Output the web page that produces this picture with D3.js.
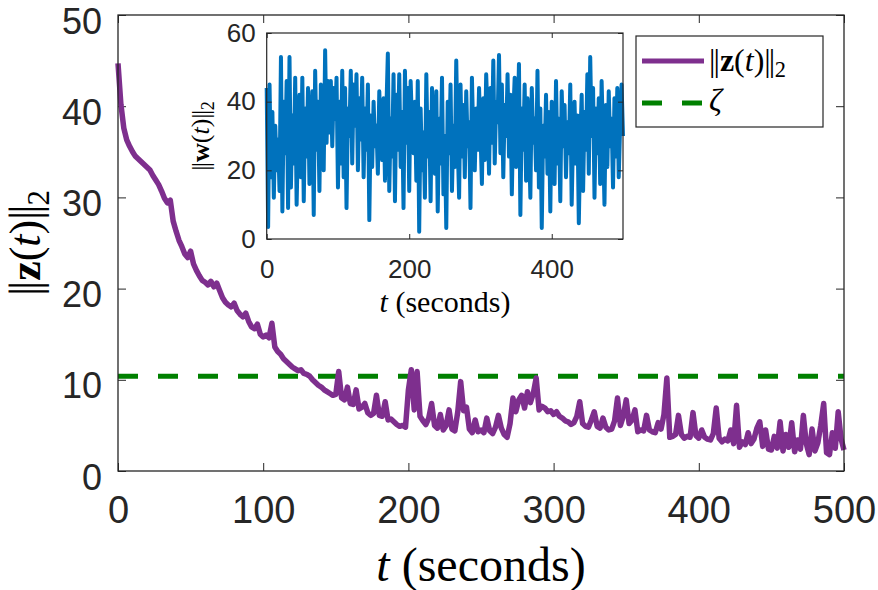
<!DOCTYPE html>
<html>
<head>
<meta charset="utf-8">
<script src="https://cdn.jsdelivr.net/npm/d3@7"></script>
<style>
    body { margin: 0; background: #fff; }
    .tick text { font-family: "Liberation Sans", Arial, sans-serif; fill: #262626; }
    .tex { font-family: "Liberation Serif", "DejaVu Serif", serif; fill: #000; }
</style>
</head>
<body>
<div id="chart"></div>
<script>
// sample spacing (seconds) of both series
const timeStep = 2;

// ||z(t)||_2, one value every 2 s from t = 0 to t = 500
const zNorm = [
    44.7, 40.2, 37.6, 36.3, 35.6, 35.0, 34.5, 34.2, 33.9, 33.6,
    33.3, 33.0, 32.4, 31.9, 31.4, 30.7, 29.9, 29.4, 29.7, 27.4,
    26.3, 25.3, 24.6, 23.8, 23.4, 24.1, 22.7, 22.0, 21.4, 20.9,
    20.7, 20.4, 20.8, 20.2, 20.6, 19.8, 19.0, 18.5, 18.2, 18.0,
    18.4, 17.6, 17.2, 16.9, 17.3, 16.4, 15.8, 15.6, 16.1, 15.0,
    14.7, 14.9, 14.6, 16.2, 13.6, 13.1, 12.8, 12.3, 12.0, 11.7,
    11.4, 11.2, 11.0, 11.1, 10.7, 10.6, 10.4, 10.0, 9.7, 9.4,
    9.2, 8.9, 8.7, 8.5, 8.3, 8.4, 10.9, 8.0, 7.8, 9.2,
    7.4, 7.3, 8.9, 6.8, 7.0, 7.4, 6.4, 6.1, 6.3, 8.3,
    6.1, 6.0, 7.6, 5.6, 5.7, 5.4, 5.1, 4.9, 5.0, 4.8,
    8.9, 11.1, 6.7, 10.9, 6.0, 5.5, 5.1, 5.8, 7.4, 5.0,
    4.7, 6.2, 4.5, 5.0, 6.7, 4.6, 4.4, 6.5, 9.8, 6.6,
    7.0, 4.6, 4.2, 5.6, 4.3, 4.5, 4.2, 5.8, 4.4, 4.1,
    4.8, 6.1, 4.7, 4.0, 3.7, 5.2, 8.0, 6.5, 7.8, 8.3,
    6.9, 8.7, 7.5, 8.5, 10.2, 6.7, 7.1, 6.9, 6.5, 6.6,
    6.2, 6.5, 6.0, 5.8, 5.5, 5.4, 5.1, 5.3, 6.0, 7.6,
    5.2, 4.9, 4.8, 5.6, 6.5, 4.9, 4.7, 5.8, 4.8, 4.5,
    4.6, 5.5, 8.0, 5.0, 6.0, 7.8, 5.2, 5.6, 6.7, 4.3,
    4.5, 4.4, 6.1, 4.5, 4.3, 4.2, 5.3, 4.6, 6.2, 10.2,
    3.7, 3.8, 4.0, 6.1, 4.0, 3.6, 3.8, 3.7, 6.4, 3.9,
    3.6, 4.5, 3.7, 3.5, 3.4, 4.1, 6.9, 3.6, 3.2, 3.5,
    3.3, 4.5, 3.0, 7.2, 2.6, 3.2, 2.9, 4.2, 3.0, 3.5,
    4.7, 5.4, 2.7, 4.5, 2.4, 2.3, 3.8, 2.5, 5.4, 2.2,
    4.0, 2.6, 5.3, 2.1, 3.4, 2.4, 6.1, 3.0, 1.8, 4.6,
    2.2, 3.1, 5.0, 7.4, 2.0, 1.8, 4.2, 2.5, 6.5, 3.5,
    2.3
];

// ||w(t)||_2 for the inset, same time grid
const wNorm = [
    44, 3.5, 45, 18, 37, 12, 33, 20, 29, 14,
    53, 8, 40, 25, 46, 9, 53, 15, 36, 22,
    47, 10, 30, 42, 18, 47, 11, 38, 24, 44,
    16, 32, 43, 7, 49, 26, 40, 14, 45, 33,
    20, 55, 28, 46, 31, 46, 27, 44, 35, 47,
    15, 40, 22, 49, 18, 44, 9, 38, 30, 49,
    22, 45, 33, 48, 20, 41, 29, 47, 18, 38,
    26, 45, 5.5, 36, 21, 40, 27, 33, 19, 43,
    30, 23, 41, 17, 38, 54, 14, 35, 24, 48,
    11, 42, 26, 48, 21, 37, 9, 49, 28, 44,
    14, 46, 33, 25, 40, 17, 46, 2.1, 38, 20,
    31, 12, 48, 24, 37, 11, 44, 28, 19, 43,
    8, 35, 22, 47, 13, 30, 3.2, 40, 25, 45,
    14, 33, 21, 52, 28, 12, 45, 24, 39, 18,
    43, 27, 34, 9, 47, 29, 20, 38, 26, 44,
    31, 16, 41, 23, 48, 36, 19, 44, 28, 52,
    22, 40, 34, 53.6, 25, 45, 18, 39, 30, 48,
    24, 42, 13, 36, 47, 21, 31, 51, 7, 38,
    26, 45, 17, 41, 30, 12, 44, 28, 35, 20,
    49, 15, 38, 3.2, 33, 24, 42, 19, 37, 8,
    40, 29, 16, 46, 22, 35, 11, 43, 27, 39,
    18, 34, 25, 45, 10, 31, 40, 22, 36, 4.6,
    28, 42, 14, 37, 26, 48, 19, 53, 30, 44,
    12, 38, 25, 41, 16, 46, 29, 10, 39, 21,
    43, 27, 35, 15, 41, 24, 44, 18, 33, 45,
    30
];

const zeta = 10.4;

const mainXTicks = [0, 100, 200, 300, 400, 500];
const mainYTicks = [0, 10, 20, 30, 40, 50];
const insetXTicks = [0, 200, 400];
const insetYTicks = [0, 20, 40, 60];

const width = 878,
    height = 590;

const purple = "#7E2F8E",
    blue = "#0072BD",
    green = "#008000",
    axisColor = "#262626";

const svg = d3.select("#chart")
    .append("svg")
    .attr("width", width)
    .attr("height", height);

// main axes
const x = d3.scaleLinear().domain([0, 500]).range([118, 844]);
const y = d3.scaleLinear().domain([0, 50]).range([471, 15]);

function styleAxis(g, fontSize) {
    g.select(".domain").remove();
    g.selectAll(".tick line").attr("stroke", axisColor).attr("stroke-width", 1);
    g.selectAll(".tick text").style("font-size", fontSize + "px");
}

svg.append("g")
    .attr("transform", `translate(0,${y(0)})`)
    .call(d3.axisBottom(x).tickValues(mainXTicks).tickSizeInner(-8).tickSizeOuter(0).tickPadding(25))
    .call(g => styleAxis(g, 38));
svg.append("g")
    .attr("transform", `translate(0,${y(50)})`)
    .call(d3.axisTop(x).tickValues(mainXTicks).tickSizeInner(-8).tickSizeOuter(0).tickFormat(""))
    .call(g => styleAxis(g, 38));
svg.append("g")
    .attr("transform", `translate(${x(0)},0)`)
    .call(d3.axisLeft(y).tickValues(mainYTicks).tickSizeInner(-8).tickSizeOuter(0).tickPadding(16))
    .call(g => styleAxis(g, 36))
    .call(g => g.selectAll(".tick text").attr("dy", "0.5em"));
svg.append("g")
    .attr("transform", `translate(${x(500)},0)`)
    .call(d3.axisRight(y).tickValues(mainYTicks).tickSizeInner(-8).tickSizeOuter(0).tickFormat(""))
    .call(g => styleAxis(g, 38));

// threshold line
svg.append("line")
    .attr("x1", x(0)).attr("x2", x(500))
    .attr("y1", y(zeta)).attr("y2", y(zeta))
    .attr("stroke", green)
    .attr("stroke-width", 5)
    .attr("stroke-dasharray", "20,20");

// ||z(t)||_2 curve
const zLine = d3.line()
    .x((d, i) => x(i * timeStep))
    .y(d => y(d));

svg.append("path")
    .datum(zNorm)
    .attr("d", zLine)
    .attr("fill", "none")
    .attr("stroke", purple)
    .attr("stroke-width", 5.5)
    .attr("stroke-linejoin", "round");

// box around main axes
svg.append("rect")
    .attr("x", x(0)).attr("y", y(50))
    .attr("width", x(500) - x(0)).attr("height", y(0) - y(50))
    .attr("fill", "none")
    .attr("stroke", axisColor)
    .attr("stroke-width", 1.3);

// axis labels (main)
const xLabel = svg.append("text")
    .attr("class", "tex")
    .attr("x", 481).attr("y", 581)
    .attr("text-anchor", "middle")
    .style("font-size", "48px");
xLabel.append("tspan").style("font-style", "italic").text("t");
xLabel.append("tspan").text(" (seconds)");

// norm symbol built from two bars, like the LaTeX \| in the source figure
function normLabel(sel, letter, sub) {
    sel.append("tspan").style("letter-spacing", "-0.06em").text("||");
    sel.append("tspan").attr("dx", "0.06em").style("font-weight", "bold").text(letter);
    sel.append("tspan").text("(");
    sel.append("tspan").style("font-style", "italic").text("t");
    sel.append("tspan").text(")");
    sel.append("tspan").style("letter-spacing", "-0.06em").text("||");
    sel.append("tspan").attr("dy", sub).attr("dx", "0.06em").style("font-size", "0.7em").text("2");
}

const yLabel = svg.append("text")
    .attr("class", "tex")
    .attr("transform", "translate(40,243) rotate(-90)")
    .attr("text-anchor", "middle")
    .style("font-size", "44px");
normLabel(yLabel, "z", "0.3em");

// inset axes
const xi = d3.scaleLinear().domain([0, 500]).range([266.7, 623]);
const yi = d3.scaleLinear().domain([0, 60]).range([239, 33]);

svg.append("rect")
    .attr("x", xi(0)).attr("y", yi(60))
    .attr("width", xi(500) - xi(0)).attr("height", yi(0) - yi(60))
    .attr("fill", "#fff");

const wLine = d3.line()
    .x((d, i) => xi(i * timeStep))
    .y(d => yi(d));

svg.append("path")
    .datum(wNorm)
    .attr("d", wLine)
    .attr("fill", "none")
    .attr("stroke", blue)
    .attr("stroke-width", 4)
    .attr("stroke-linejoin", "round");

svg.append("g")
    .attr("transform", `translate(0,${yi(0)})`)
    .call(d3.axisBottom(xi).tickValues(insetXTicks).tickSizeInner(-5).tickSizeOuter(0).tickPadding(21))
    .call(g => styleAxis(g, 26));
svg.append("g")
    .attr("transform", `translate(0,${yi(60)})`)
    .call(d3.axisTop(xi).tickValues(insetXTicks).tickSizeInner(-5).tickSizeOuter(0).tickFormat(""))
    .call(g => styleAxis(g, 26));
svg.append("g")
    .attr("transform", `translate(${xi(0)},0)`)
    .call(d3.axisLeft(yi).tickValues(insetYTicks).tickSizeInner(-5).tickSizeOuter(0).tickPadding(11))
    .call(g => styleAxis(g, 26));
svg.append("g")
    .attr("transform", `translate(${xi(500)},0)`)
    .call(d3.axisRight(yi).tickValues(insetYTicks).tickSizeInner(-5).tickSizeOuter(0).tickFormat(""))
    .call(g => styleAxis(g, 26));

svg.append("rect")
    .attr("x", xi(0)).attr("y", yi(60))
    .attr("width", xi(500) - xi(0)).attr("height", yi(0) - yi(60))
    .attr("fill", "none")
    .attr("stroke", axisColor)
    .attr("stroke-width", 1.2);

const xiLabel = svg.append("text")
    .attr("class", "tex")
    .attr("x", 445).attr("y", 312)
    .attr("text-anchor", "middle")
    .style("font-size", "30px");
xiLabel.append("tspan").style("font-style", "italic").text("t");
xiLabel.append("tspan").text(" (seconds)");

const yiLabel = svg.append("text")
    .attr("class", "tex")
    .attr("transform", "translate(209,136) rotate(-90)")
    .attr("text-anchor", "middle")
    .style("font-size", "26px");
normLabel(yiLabel, "w", "0.3em");

// legend
const legend = svg.append("g");
legend.append("rect")
    .attr("x", 636).attr("y", 36)
    .attr("width", 187).attr("height", 91)
    .attr("fill", "#fff")
    .attr("stroke", axisColor)
    .attr("stroke-width", 1.2);
legend.append("line")
    .attr("x1", 642).attr("x2", 704)
    .attr("y1", 61).attr("y2", 61)
    .attr("stroke", purple).attr("stroke-width", 5);
legend.append("line")
    .attr("x1", 642).attr("x2", 704)
    .attr("y1", 103).attr("y2", 103)
    .attr("stroke", green).attr("stroke-width", 5)
    .attr("stroke-dasharray", "20,20");

const legZ = legend.append("text")
    .attr("class", "tex")
    .attr("x", 709).attr("y", 71)
    .style("font-size", "32px");
normLabel(legZ, "z", "0.25em");

legend.append("text")
    .attr("class", "tex")
    .attr("x", 709).attr("y", 111)
    .style("font-size", "32px")
    .style("font-style", "italic")
    .text("\u03B6");
</script>
</body>
</html>
